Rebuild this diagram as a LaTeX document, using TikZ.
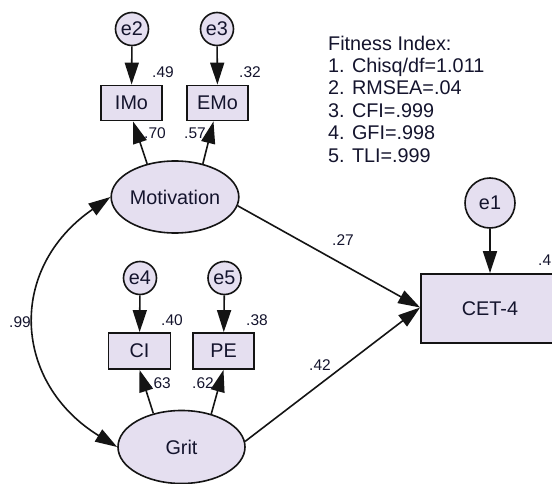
\documentclass[tikz,border=0pt]{standalone}
\usepackage{fontspec}
\setmainfont{Liberation Sans}
\usetikzlibrary{arrows.meta,shapes.geometric}
\definecolor{lav}{RGB}{229,223,240}
\definecolor{edgec}{RGB}{20,20,20}
\definecolor{txt}{RGB}{20,20,45}
\begin{document}
\begin{tikzpicture}[x=1pt,y=-1pt,
  every node/.style={text=txt},
  big/.style={font=\fontsize{19.8}{22.4}\selectfont},
  lat/.style={ellipse, draw=edgec, line width=1.6pt, fill=lav, minimum width=127pt, minimum height=72pt, inner sep=0pt, big},
  err/.style={circle, draw=edgec, line width=1.6pt, fill=lav, minimum size=33pt, inner sep=0pt, big},
  obs/.style={rectangle, draw=edgec, line width=1.8pt, fill=lav, minimum width=61pt, minimum height=35pt, inner sep=0pt, big},
  arr/.style={draw=edgec, line width=1.6pt, -{Triangle[length=22pt,width=14pt]}},
  dbl/.style={draw=edgec, line width=1.6pt, {Triangle[length=22pt,width=14pt]}-{Triangle[length=22pt,width=14pt]}},
  coef/.style={font=\fontsize{15.5}{18}\selectfont, inner sep=0pt}
]
\useasboundingbox (0,0) rectangle (552,484);
\fill[white] (0,0) rectangle (552,484);

% nodes
\node[err] (e2) at (132,29) {e2};
\node[err] (e3) at (217,29) {e3};
\node[obs] (IMo) at (131.5,103) {IMo};
\node[obs] (EMo) at (217.5,103) {EMo};
\node[lat] (Motivation) at (175,197) {Motivation};

\node[err] (e4) at (140,278) {e4};
\node[err] (e5) at (224.5,278) {e5};
\node[obs, minimum height=36pt, minimum width=62pt] (CI) at (139.5,351) {CI};
\node[obs, minimum height=36pt] (PE) at (223.5,351) {PE};
\node[lat, minimum height=73pt] (Grit) at (181.5,447) {Grit};

\node[err, minimum size=50pt] (e1) at (490,203) {e1};
\node[obs, minimum width=138pt, minimum height=69pt] (CET) at (490,308.5) {CET-4};

\node[big, align=left, anchor=north west, inner sep=0pt] (fit) at (328,35.5)
  {Fitness Index:\\1. Chisq/df=1.011\\2. RMSEA=.04\\3. CFI=.999\\4. GFI=.998\\5. TLI=.999};

% connectors
\draw[arr] (e2) -- (IMo);
\draw[arr] (e3) -- (EMo);
\draw[arr] (e4) -- (CI);
\draw[arr] (e5) -- (PE);
\draw[arr] (e1) -- (CET);
\draw[arr] (Motivation.130) -- ([xshift=1.5pt]IMo.south);
\draw[arr] (Motivation.50) -- ([xshift=-4pt]EMo.south);
\draw[arr] (Grit.130) -- (CI.south);
\draw[arr] (Grit.48) -- (PE.south);
\draw[arr] (Motivation.-8) -- ([yshift=1pt]CET.west);
\draw[arr] (Grit.5) -- ([yshift=1pt]CET.west);
\draw[dbl] (Motivation.west) .. controls +(-104,72) and +(-104,-64) .. (Grit.west);

% coefficients
\node[coef] (l49) at (163,72) {.49};
\node[coef] (l32) at (250,72) {.32};
\node[coef] (l70) at (155,133) {.70};
\node[coef] (l57) at (195,133) {.57};
\node[coef] (l40) at (172,320) {.40};
\node[coef] (l38) at (257,320) {.38};
\node[coef] (l63) at (160,383) {.63};
\node[coef] (l62) at (203,383) {.62};
\node[coef] (l27) at (343,240) {.27};
\node[coef] (l42) at (320,365) {.42};
\node[coef] (l99) at (20,322) {.99};
\node[coef, anchor=west] (l4) at (538,260) {.4};
\end{tikzpicture}
\end{document}
